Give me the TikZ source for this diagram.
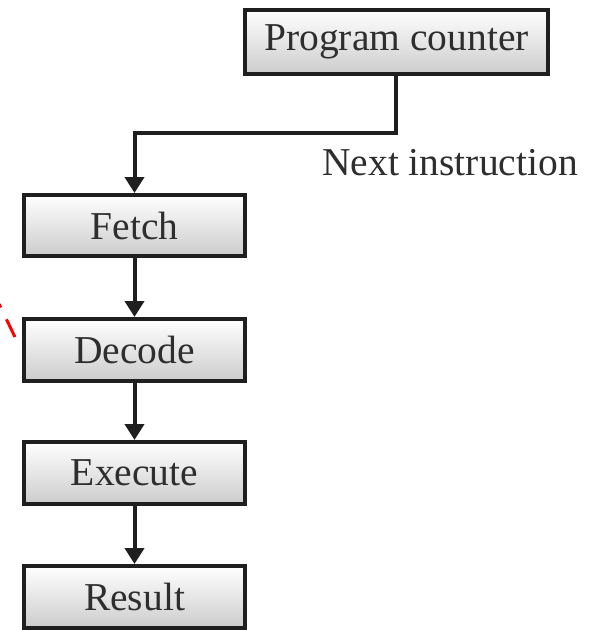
\documentclass[tikz,border=0pt]{standalone}
\usepackage{fontspec}
\setmainfont{Liberation Serif}
\usetikzlibrary{arrows.meta}
\tikzset{
  stepbox/.style={draw=black!88, line width=4pt, top color=white, bottom color=black!20,
    inner sep=0pt, font=\fontsize{39.5}{42}\selectfont, text=black!82},
  flow/.style={draw=black!88, line width=4pt, -{Triangle[length=16pt,width=19pt]}},
}
\begin{document}
\begin{tikzpicture}[x=1pt,y=-1pt]
\useasboundingbox (0,0) rectangle (590,630);
\node[stepbox, minimum width=303pt, minimum height=64pt] (pc) at (396.5,42) {Program counter};
\node[stepbox, minimum width=221pt, minimum height=61pt] (fetch) at (134.5,225.5) {Fetch};
\node[stepbox, minimum width=221pt, minimum height=62pt] (decode) at (134.5,350) {Decode};
\node[stepbox, minimum width=221pt, minimum height=62pt] (execute) at (134.5,473) {Execute};
\node[stepbox, minimum width=221pt, minimum height=62pt] (result) at (134.5,597) {Result};
\node[font=\fontsize{39.5}{42}\selectfont, text=black!82, inner sep=0pt] (next) at (450,163) {Next instruction};
\coordinate (bend) at (396,133);
\draw[flow] (pc.south -| bend) -- (bend) -- (bend -| fetch.north) -- (fetch.north);
\draw[flow] (fetch) -- (decode);
\draw[flow] (decode) -- (execute);
\draw[flow] (execute) -- (result);
\coordinate (r1) at (-1,304);
\coordinate (r2) at (15,337);
\draw[red, line width=3pt, dash pattern=on 4pt off 13pt on 20pt] (r1) -- (r2);
\end{tikzpicture}
\end{document}
